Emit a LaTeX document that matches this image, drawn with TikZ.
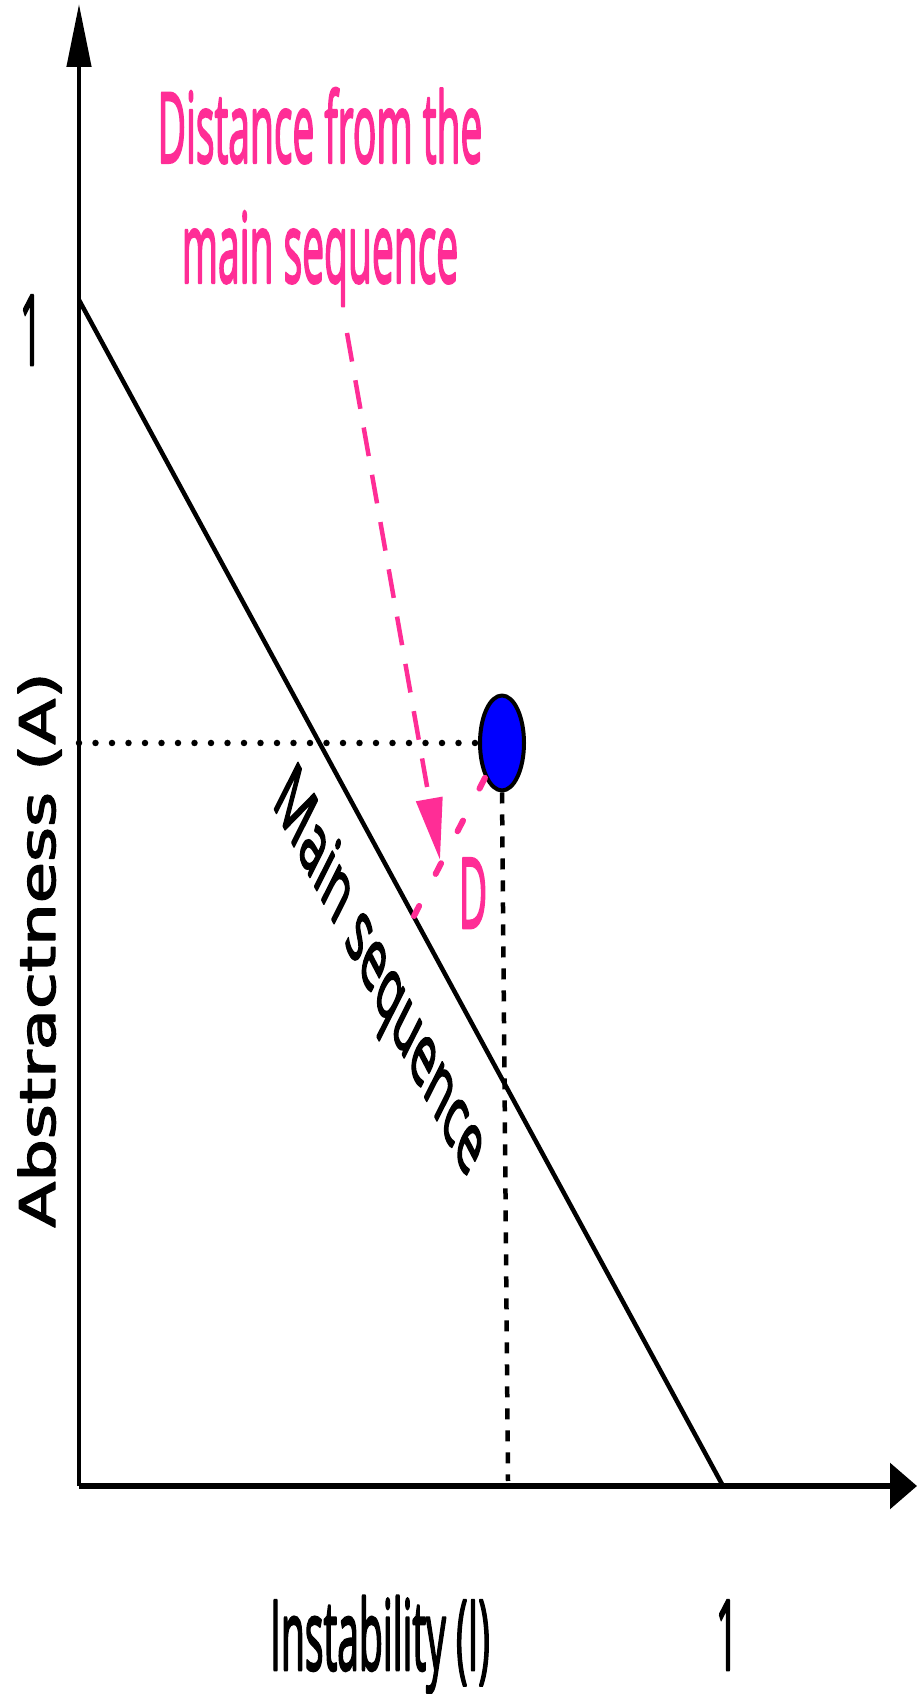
\documentclass[tikz,border=0pt]{standalone}
\usepackage{fontspec}
\setmainfont{Open Sans}[FakeBold=3]
\newfontfamily\axisfont{DejaVu Sans}[FakeBold=2.5]
\usepackage{tikz}
\usetikzlibrary{arrows.meta,calc,positioning,shapes.geometric}
\definecolor{MSPink}{RGB}{255,45,150}
\definecolor{MSBlue}{RGB}{0,0,255}
\tikzset{
  axisline/.style ={draw=black, line width=4.5pt},
  mainline/.style ={draw=black, line width=4.5pt},
  lblfont/.style  ={font=\fontsize{39}{48}\selectfont, inner sep=0pt},
  lbl/.style      ={lblfont, yscale=2.5},
  pinklbl/.style  ={lbl, text=MSPink},
  dotline/.style  ={draw=black, line width=6.5pt, dash pattern=on 0pt off 16.5pt, line cap=round},
  dashline/.style ={draw=black, line width=4.5pt, dash pattern=on 11pt off 11pt},
  distline/.style ={draw=MSPink, line width=6pt, dash pattern=on 12pt off 36pt, line cap=round},
  pinkarrow/.style={draw=MSPink, line width=4.5pt, dash pattern=on 29pt off 19pt,
                    -{Triangle[length=62pt,width=26pt]}},
  comp/.style     ={ellipse, draw=black, fill=MSBlue, line width=4pt,
                    minimum width=44pt, minimum height=95pt, inner sep=0pt},
}

\begin{document}
\begin{tikzpicture}[
  x=1pt,y=1pt,
  >=Stealth,
  line join=round
]
\useasboundingbox (0,0) rectangle (918,1694);

% --- Axes ----------------------------------------------------------------
\coordinate (O)    at (79,208);
\coordinate (ytip) at (79,1690);
\coordinate (xtip) at (917,208);
\draw[axisline, -{Triangle[length=63pt,width=24pt]}] (O) -- (ytip);
\draw[axisline, line width=6pt, -{Triangle[length=27pt,width=45pt]}] (O) -- (xtip);

\node[lbl, anchor=base] (yone) at (31,1329) {1};
\node[lbl, anchor=base] (xone) at (727,24) {1};
\node[lbl, anchor=base] (xlbl) at (380,24) {Instability (I)};
\node[font=\axisfont\fontsize{49}{56}\selectfont, inner sep=0pt,
      rotate=90, xscale=1.37, anchor=base] (ylbl) at (55,744) {Abstractness (A)};

% --- Main sequence -------------------------------------------------------
\coordinate (mstop) at (79,1394);
\coordinate (msbot) at (723,208);
\draw[mainline] (mstop) -- (msbot);

\begin{scope}[shift={(378,718)}, yscale=1.95]
  \node[lblfont, font=\fontsize{39}{48}\selectfont, rotate=-44.5, yscale=1.2,
        transform shape] (mslbl) at (0,0) {Main sequence};
\end{scope}

% --- Component and its projections --------------------------------------
\node[comp] (pkg) at (502,951) {};
\coordinate (aval) at (O |- pkg);
\coordinate (ival) at (508,213);
\draw[dotline]  (aval) -- (pkg.west);
\draw[dashline] (pkg.south) -- (ival);

% --- Distance D ----------------------------------------------------------
\coordinate (foot) at (414,778);
\draw[distline] (pkg.244) -- (foot);
\node[pinklbl, anchor=base] (dlbl) at (473,766) {D};

\node[pinklbl, align=center] (dist) at (320,1497) {Distance from the\\main sequence};
\coordinate (dtail) at (347,1361);
\coordinate (dhead) at (440,834);
\draw[pinkarrow] (dtail) -- (dhead);

\end{tikzpicture}
\end{document}
